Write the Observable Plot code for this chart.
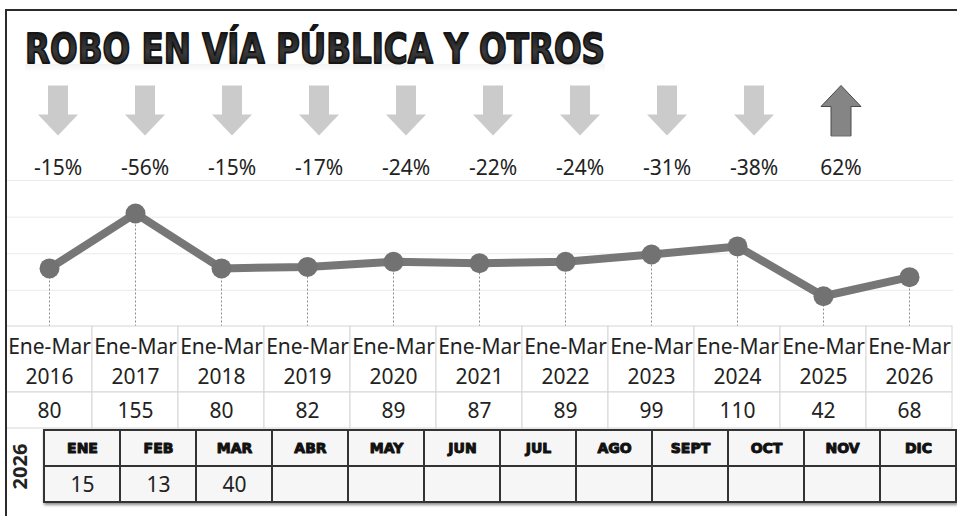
<!DOCTYPE html>
<html>
<head>
<meta charset="utf-8">
<script src="https://cdn.jsdelivr.net/npm/d3@7"></script>
<script src="https://cdn.jsdelivr.net/npm/@observablehq/plot@0.6"></script>
<style>
html, body { margin: 0; padding: 0; background: #fff; }
#root { position: relative; width: 957px; height: 516px; overflow: hidden; background: #fff; font-family: "Noto Sans", sans-serif; }
#root > svg, #root > div { position: absolute; left: 0; }
.frameTop { top: 9px; left: 5px !important; width: 952px; height: 2px; background: #2b2b2b; z-index: 10; }
.frameLeft { top: 9px; left: 5px !important; width: 2px; height: 507px; background: #2b2b2b; z-index: 10; }
</style>
</head>
<body>
<div id="root"></div>
<script>
// ---------- data ----------
const title = "ROBO EN VÍA PÚBLICA Y OTROS";
const periodLabel = "Ene-Mar";
const years = ["2016", "2017", "2018", "2019", "2020", "2021", "2022", "2023", "2024", "2025", "2026"];
const totals = [80, 155, 80, 82, 89, 87, 89, 99, 110, 42, 68];
const changeYears = ["2016", "2017", "2018", "2019", "2020", "2021", "2022", "2023", "2024", "2025"];
const changes = [-15, -56, -15, -17, -24, -22, -24, -31, -38, 62];
const monthYear = "2026";
const months = ["ENE", "FEB", "MAR", "ABR", "MAY", "JUN", "JUL", "AGO", "SEPT", "OCT", "NOV", "DIC"];
const monthValues = [15, 13, 40, null, null, null, null, null, null, null, null, null];
const yTicks = [0, 50, 100, 150, 200];

const root = document.getElementById("root");
const FONT = "Noto Sans";

function place(el, top) {
  el.style.position = "absolute";
  el.style.left = "0px";
  el.style.top = top + "px";
  root.appendChild(el);
  return el;
}

// ---------- title ----------
const tsvg = d3.create("svg").attr("width", 957).attr("height", 80);
const defs = tsvg.append("defs");
const g1 = defs.append("linearGradient").attr("id", "tg").attr("x1", 0).attr("y1", 0).attr("x2", 0).attr("y2", 1);
g1.append("stop").attr("offset", "0%").attr("stop-color", "#111");
g1.append("stop").attr("offset", "55%").attr("stop-color", "#3a3a3a");
g1.append("stop").attr("offset", "100%").attr("stop-color", "#151515");
const g2 = defs.append("linearGradient").attr("id", "rg").attr("x1", 0).attr("y1", 0).attr("x2", 0).attr("y2", 1);
g2.append("stop").attr("offset", "0%").attr("stop-color", "#000").attr("stop-opacity", 0.05);
g2.append("stop").attr("offset", "100%").attr("stop-color", "#000").attr("stop-opacity", 0);
// soft reflection band under the title (decoration only)
tsvg.append("rect").attr("x", 25).attr("y", 64).attr("width", 580).attr("height", 8).attr("fill", "url(#rg)");
tsvg.append("text")
  .attr("x", 25).attr("y", 63)
  .attr("textLength", 580).attr("lengthAdjust", "spacingAndGlyphs")
  .attr("font-family", "DejaVu Sans").attr("font-weight", "bold").attr("font-size", 41)
  .attr("fill", "url(#tg)").attr("stroke", "#151515").attr("stroke-width", 2)
  .attr("stroke-linejoin", "round")
  .text(title);
place(tsvg.node(), 0);

// ---------- arrows + percentage row ----------
const arrowData = changeYears.map((y, i) => ({year: y, change: changes[i]}));
const blockArrow = {
  draw(ctx, l) {
    const head = 21, hw = 20, sw = 10;
    ctx.moveTo(-sw, 0);
    ctx.lineTo(-sw, -(l - head));
    ctx.lineTo(-hw, -(l - head));
    ctx.lineTo(0, -l);
    ctx.lineTo(hw, -(l - head));
    ctx.lineTo(sw, -(l - head));
    ctx.lineTo(sw, 0);
    ctx.closePath();
  }
};
const arrowPlot = Plot.plot({
  width: 957, height: 110,
  marginTop: 0, marginBottom: 0, marginLeft: 10, marginRight: 70,
  x: {type: "band", domain: changeYears, padding: 0, axis: null},
  style: {background: "transparent", overflow: "visible"},
  marks: [
    Plot.vector(arrowData.filter(d => d.change < 0), {
      x: "year", frameAnchor: "top", dy: 40, length: 50, rotate: 180,
      shape: blockArrow, fill: "#cbcbcb", stroke: "none"
    }),
    Plot.vector(arrowData.filter(d => d.change >= 0), {
      x: "year", frameAnchor: "top", dy: 40, length: 50, rotate: 0,
      shape: blockArrow, fill: "#858585", stroke: "#4a4a4a", strokeWidth: 1
    }),
    Plot.text(arrowData, {
      x: "year", frameAnchor: "top", dy: 90,
      text: d => `${d.change}%`,
      fontFamily: FONT, fontSize: 21, fill: "#222"
    })
  ]
});
place(arrowPlot, 70);

// ---------- line chart ----------
const series = years.map((y, i) => ({year: y, total: totals[i]}));
const chart = Plot.plot({
  width: 957, height: 170,
  marginTop: 10, marginBottom: 13.5, marginLeft: 5, marginRight: 4,
  x: {type: "band", domain: years, padding: 0, axis: null},
  y: {domain: [yTicks[0], yTicks[yTicks.length - 1]], axis: null},
  style: {background: "transparent", overflow: "visible"},
  marks: [
    Plot.ruleY(yTicks.slice(1), {stroke: "#ebebeb", strokeWidth: 1}),
    Plot.ruleX(series, {x: "year", y1: 0, y2: "total", stroke: "#8c8c8c", strokeDasharray: "2,2"}),
    Plot.line(series, {x: "year", y: "total", stroke: "#777", strokeWidth: 8, curve: "linear"}),
    Plot.dot(series, {x: "year", y: "total", r: 10, fill: "#727272", stroke: "none"})
  ]
});
place(chart, 170);

// ---------- table: period labels ----------
const labelRow = Plot.plot({
  width: 957, height: 68,
  marginTop: 1, marginBottom: 1, marginLeft: 5, marginRight: 4,
  x: {type: "band", domain: years, padding: 0, axis: null},
  style: {background: "transparent", overflow: "visible"},
  marks: [
    Plot.cell(years, {x: d => d, fill: "white", stroke: "#d6d6d6"}),
    Plot.text(years, {
      x: d => d, text: d => `${periodLabel}\n${d}`,
      lineHeight: 1.43, fontFamily: FONT, fontSize: 21, fill: "#222"
    })
  ]
});
place(labelRow, 325);

// ---------- table: totals ----------
const valueRow = Plot.plot({
  width: 957, height: 38,
  marginTop: 1, marginBottom: 1, marginLeft: 5, marginRight: 4,
  x: {type: "band", domain: years, padding: 0, axis: null},
  style: {background: "transparent", overflow: "visible"},
  marks: [
    Plot.cell(series, {x: "year", fill: "white", stroke: "#d6d6d6"}),
    Plot.text(series, {x: "year", text: d => String(d.total), dy: 1, fontFamily: FONT, fontSize: 21, fill: "#222"})
  ]
});
place(valueRow, 391);

// ---------- monthly table ----------
const monthCells = months.flatMap(m => [{month: m, row: "head"}, {month: m, row: "val"}]);
const monthData = months.map((m, i) => ({month: m, value: monthValues[i]}));
const monthPlot = Plot.plot({
  width: 957, height: 96,
  marginTop: 10, marginBottom: 14, marginLeft: 42, marginRight: 0,
  x: {type: "band", domain: months, padding: 0, axis: null},
  y: {type: "band", domain: ["head", "val"], padding: 0, axis: null},
  style: {background: "transparent", overflow: "visible"},
  marks: [
    Plot.cell(monthCells, {x: "month", y: "row", fill: "#f6f6f6", stroke: "#333", strokeWidth: 2}),
    Plot.text(months, {
      x: d => d, y: () => "head",
      fontFamily: "DejaVu Sans", fontWeight: "bold", fontSize: 14,
      fill: "#111", stroke: "#111", strokeWidth: 1
    }),
    Plot.text(monthData.filter(d => d.value != null), {
      x: "month", y: () => "val", text: d => String(d.value), dy: 1,
      fontFamily: FONT, fontSize: 21, fill: "#222"
    }),
    Plot.text([monthYear], {
      frameAnchor: "left", textAnchor: "middle", dx: -22, rotate: -90, text: d => d,
      fontFamily: FONT, fontWeight: "bold", fontSize: 20, fill: "#222"
    })
  ]
});
const cellG = monthPlot.querySelector('g[aria-label="cell"]');
if (cellG) cellG.style.filter = "drop-shadow(1px 2px 1.5px rgba(0,0,0,0.45))";
place(monthPlot, 420);

// ---------- outer frame ----------
const ft = document.createElement("div"); ft.className = "frameTop"; root.appendChild(ft);
const fl = document.createElement("div"); fl.className = "frameLeft"; root.appendChild(fl);
</script>
</body>
</html>
